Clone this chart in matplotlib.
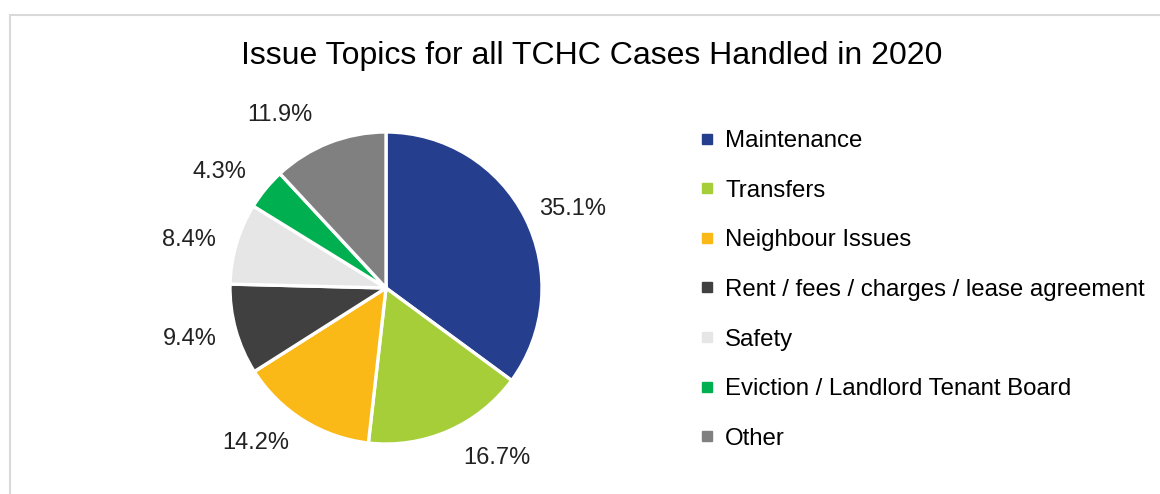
import numpy as np
import matplotlib.pyplot as plt
from matplotlib.lines import Line2D
from matplotlib.patches import Rectangle

# data
topics = ["Maintenance", "Transfers", "Neighbour Issues",
          "Rent / fees / charges / lease agreement", "Safety",
          "Eviction / Landlord Tenant Board", "Other"]
shares = [35.1, 16.7, 14.2, 9.4, 8.4, 4.3, 11.9]
colors = ["#253F8E", "#A6CE39", "#FBB918", "#404040", "#E6E6E6", "#00AF50", "#808080"]
# small angular nudges (deg) so labels sit like the best-fit placement
label_nudge = [-4, 9.6, -8, -1, 3, 4.5, 10]

plt.rcParams["font.family"] = ["Liberation Sans", "DejaVu Sans"]

W, H = 1160, 494
fig = plt.figure(figsize=(W / 100, H / 100), dpi=100)

# light border round the chart area
fig.patches.append(Rectangle((10 / W, -0.1), 1.2, 479 / H + 0.1, transform=fig.transFigure,
                             fill=False, edgecolor="#d9d9d9", lw=1.5))

fig.text(592 / W, 1 - 56 / H, "Issue Topics for all TCHC Cases Handled in 2020",
         ha="center", va="center", fontsize=23)

# pie
cx, cy, r = 386, 494 - 288, 156
ax = fig.add_axes([(cx - r) / W, (cy - r) / H, 2 * r / W, 2 * r / H])
wedges, texts, autotexts = ax.pie(
    shares, colors=colors, startangle=90, counterclock=False,
    autopct=lambda p: f"{p:.1f}%", pctdistance=1.3,
    wedgeprops=dict(edgecolor="white", linewidth=2.4),
    textprops=dict(fontsize=17, color="#222222"))
for t, d in zip(autotexts, label_nudge):
    x, y = t.get_position()
    a = np.deg2rad(d)
    t.set_position((x * np.cos(a) - y * np.sin(a), x * np.sin(a) + y * np.cos(a)))
ax.set_xlim(-1, 1)
ax.set_ylim(-1, 1)
ax.set_aspect("equal")

# legend
handles = [Line2D([0], [0], marker="s", linestyle="none", markersize=6.5,
                  markerfacecolor=c, markeredgecolor=c) for c in colors]
fig.legend(handles, topics, loc="upper left", bbox_to_anchor=(700 / W, 1 - 130 / H),
           frameon=False, fontsize=17.3, handlelength=0.6, handletextpad=0.45,
           labelspacing=1.15, borderaxespad=0, borderpad=0)

fig.savefig("out.png", dpi=100, facecolor="white")
